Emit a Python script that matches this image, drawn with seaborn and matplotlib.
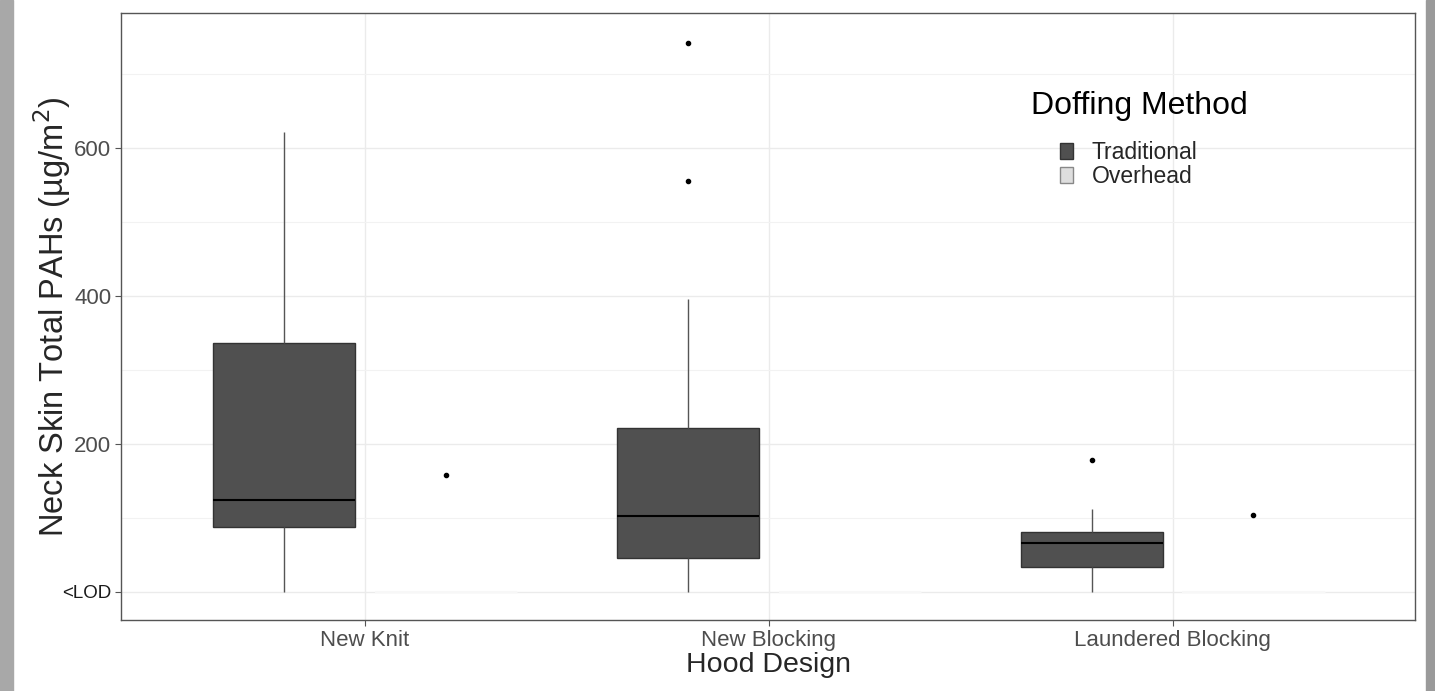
import seaborn as sns
import matplotlib.pyplot as plt
import matplotlib.patches as mpatches
import numpy as np
import pandas as pd

# values (ug/m2, <LOD plotted as 0)
designs = ['New Knit', 'New Blocking', 'Laundered Blocking']
methods = ['Traditional', 'Overhead']

knit_trad = [0, 88, 124, 336, 621]
knit_over = [0, 0, 0, 0, 0, 158]
block_trad = [0, 10, 25, 46, 60, 85, 103, 140, 180, 222, 395, 555, 741]
block_over = [0, 0, 0, 0, 0]
laund_trad = [0, 20, 34, 50, 66, 75, 81, 112, 178]
laund_over = [0, 0, 0, 0, 0, 104]

rows = []
for design, method, vals in [('New Knit', 'Traditional', knit_trad),
                             ('New Knit', 'Overhead', knit_over),
                             ('New Blocking', 'Traditional', block_trad),
                             ('New Blocking', 'Overhead', block_over),
                             ('Laundered Blocking', 'Traditional', laund_trad),
                             ('Laundered Blocking', 'Overhead', laund_over)]:
    for v in vals:
        rows.append([design, method, v])
df = pd.DataFrame(rows, columns=['design', 'method', 'pahs'])

sns.set_style('white')
plt.rcParams['font.family'] = ['Liberation Sans', 'DejaVu Sans']

fig = plt.figure(figsize=(14.35, 6.91), dpi=100)
# gray photo edges at left and right
fig.patches.append(mpatches.Rectangle((0, 0), 13 / 1435, 1, transform=fig.transFigure,
                                      color='#a8a8a8', zorder=-10))
fig.patches.append(mpatches.Rectangle((1426 / 1435, 0), 9 / 1435, 1, transform=fig.transFigure,
                                      color='#9a9a9a', zorder=-10))
ax = fig.add_axes([121 / 1435, 71 / 691, 1294 / 1435, 607 / 691])

sns.boxplot(data=df, x='design', y='pahs', hue='method', order=designs, hue_order=methods,
            palette={'Traditional': '#505050', 'Overhead': '#dedede'},
            width=0.8, gap=0.12, linecolor='#333333', linewidth=1, showcaps=False,
            whis=1.5, fliersize=3,
            flierprops=dict(marker='o', markerfacecolor='black', markeredgecolor='black'),
            medianprops=dict(color='black', linewidth=1.5),
            whiskerprops=dict(color='#555555'),
            legend=False, ax=ax)

# flat overhead boxes at <LOD look like a whitish strip in the original
for ln in ax.lines:
    y = np.asarray(ln.get_ydata(), dtype=float)
    if len(y) > 1 and np.all(y == 0):
        ln.set_color('#f7f7f7')
for p in ax.patches:
    ext = p.get_path().get_extents()
    if ext.height == 0:
        p.set_edgecolor('#f7f7f7')

ax.set_xlim(-0.604, 2.6)
ax.set_ylim(-38, 782)
ax.set_yticks([0, 200, 400, 600])
ax.set_yticklabels(['<LOD', '200', '400', '600'])
ax.set_yticks([100, 300, 500, 700], minor=True)
ax.grid(True, which='major', color='#ebebeb', linewidth=1)
ax.grid(True, which='minor', axis='y', color='#f2f2f2', linewidth=0.8)
ax.set_axisbelow(True)
ax.tick_params(axis='both', which='major', length=4, color='#555555', labelsize=16,
               labelcolor='#4d4d4d', direction='out', left=True, bottom=True, pad=3)
ax.tick_params(axis='y', which='minor', length=0)
lod = ax.get_yticklabels()[0]
lod.set_color('#1a1a1a')
lod.set_fontsize(13.5)
for s in ax.spines.values():
    s.set_color('#555555')
    s.set_linewidth(1)

ax.set_xlabel('Hood Design', fontsize=20.5, labelpad=1)
ax.set_ylabel('Neck Skin Total PAHs (µg/m$^2$)', fontsize=23.5)
ax.yaxis.set_label_coords(-0.037, 0.5)

# legend: title on its own, keys indented like ggplot
handles = [mpatches.Patch(facecolor='#505050', edgecolor='#333333', label='Traditional'),
           mpatches.Patch(facecolor='#dedede', edgecolor='#888888', label='Overhead')]
ax.text(0.703, 0.872, 'Doffing Method', transform=ax.transAxes, fontsize=23,
        color='black', ha='left', va='top')
ax.legend(handles=handles, loc='upper left', bbox_to_anchor=(0.726, 0.789),
          frameon=False, fontsize=16.5, handlelength=0.55, handleheight=0.7,
          labelspacing=0.05, handletextpad=0.8, borderaxespad=0, borderpad=0)

fig.savefig('out.png', dpi=100)
plt.close(fig)
